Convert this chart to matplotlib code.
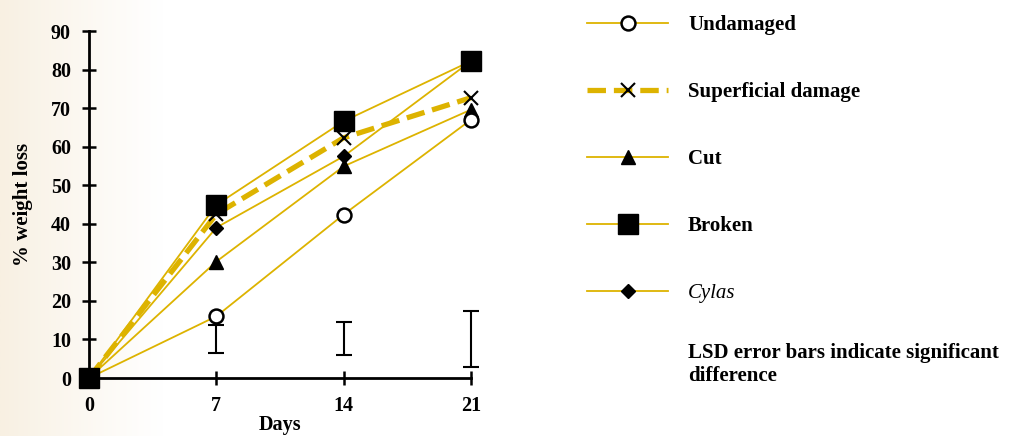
import numpy as np
import matplotlib
matplotlib.use("Agg")
import matplotlib.pyplot as plt
from matplotlib.lines import Line2D

days = [0, 7, 14, 21]
undamaged = [0, 16, 42.4, 67]
superficial = [0, 42.5, 62.3, 72.7]
cut = [0, 30.2, 54.9, 69.6]
broken = [0, 44.9, 66.6, 82.2]
cylas = [0, 39, 57.5, 82.2]

# LSD bars: lower and upper ends at days 7, 14, 21
lsd_days = [7, 14, 21]
lsd_low = [6.5, 6.0, 2.9]
lsd_high = [13.8, 14.4, 17.5]

gold = '#DDB300'
plt.rcParams['font.family'] = ['Liberation Serif', 'DejaVu Serif']
plt.rcParams['font.weight'] = 'bold'

fig = plt.figure(figsize=(10.11, 4.36), dpi=100)

# faint beige wash on the left edge
bg = fig.add_axes([0, 0, 1, 1], zorder=-10)
grad = np.linspace(0, 1, 400)
fade = np.clip(grad / 0.16, 0, 1) ** 0.9
img = np.ones((1, 400, 3))
beige = np.array([248, 240, 226]) / 255.0
for c in range(3):
    img[0, :, c] = beige[c] + (1 - beige[c]) * fade
bg.imshow(img, aspect='auto', extent=[0, 1, 0, 1])
bg.axis('off')

ax = fig.add_axes([89 / 1011, 1 - 378 / 436, (471 - 89) / 1011, (378 - 31) / 436])
ax.patch.set_alpha(0)

ax.plot(days, undamaged, color=gold, lw=1.3, marker='o', ms=10, mfc='white',
        mec='black', mew=1.8, zorder=4, clip_on=False)
ax.plot(days, cut, color=gold, lw=1.3, marker='^', ms=10, mfc='black',
        mec='black', zorder=3, clip_on=False)
ax.plot(days, cylas, color=gold, lw=1.3, marker='D', ms=7, mfc='black',
        mec='black', zorder=3, clip_on=False)
ax.plot(days, superficial, color=gold, lw=3.8, ls=(0, (3.5, 1.5)), marker='x',
        ms=10, mec='black', mew=1.5, zorder=5, clip_on=False)
ax.plot(days, broken, color=gold, lw=1.3, marker='s', ms=15, mfc='black',
        mec='black', zorder=6, clip_on=False)

mid = [(a + b) / 2 for a, b in zip(lsd_low, lsd_high)]
half = [(b - a) / 2 for a, b in zip(lsd_low, lsd_high)]
eb = ax.errorbar(lsd_days, mid, yerr=half, fmt='none', ecolor='black',
                 elinewidth=1.5, capsize=6, capthick=1.5, zorder=2)
for art in eb.lines[1] + eb.lines[2]:
    art.set_clip_on(False)

ax.set_xlim(0, 21)
ax.set_ylim(0, 90)
ax.set_xticks(days)
ax.set_yticks(range(0, 91, 10))
for side in ['top', 'right']:
    ax.spines[side].set_visible(False)
for side in ['left', 'bottom']:
    ax.spines[side].set_linewidth(2)
ax.tick_params(direction='inout', length=10, width=1.8, labelsize=14.5, pad=8)
for lbl in ax.get_xticklabels() + ax.get_yticklabels():
    lbl.set_fontweight('bold')
ax.set_xlabel('Days', fontsize=14.5, fontweight='bold', labelpad=-1)
ax.set_ylabel('% weight loss', fontsize=15, fontweight='bold', labelpad=13)

handles = [
    Line2D([], [], color=gold, lw=1.3, marker='o', ms=10, mfc='white', mec='black', mew=1.8),
    Line2D([], [], color=gold, lw=3.8, ls=(0, (3.5, 1.5)), marker='x', ms=10, mec='black', mew=1.5),
    Line2D([], [], color=gold, lw=1.3, marker='^', ms=10, mfc='black', mec='black'),
    Line2D([], [], color=gold, lw=1.3, marker='s', ms=15, mfc='black', mec='black'),
    Line2D([], [], color=gold, lw=1.3, marker='D', ms=7, mfc='black', mec='black'),
]
labels = ['Undamaged', 'Superficial damage', 'Cut', 'Broken', 'Cylas']
leg = fig.legend(handles, labels, loc='upper left', bbox_to_anchor=(587 / 1011, 1 - 15 / 436),
                 frameon=False, prop={'size': 15, 'weight': 'bold'}, handlelength=3.9,
                 handletextpad=0.95, labelspacing=2.26, borderpad=0, borderaxespad=0)
leg.get_texts()[4].set_fontstyle('italic')
leg.get_texts()[4].set_fontweight('normal')

fig.text(688 / 1011, 1 - 364 / 436, 'LSD error bars indicate significant\ndifference',
         fontsize=15, fontweight='bold', va='center', ha='left', multialignment='left',
         linespacing=1.2)

fig.savefig('out.png', dpi=100)
